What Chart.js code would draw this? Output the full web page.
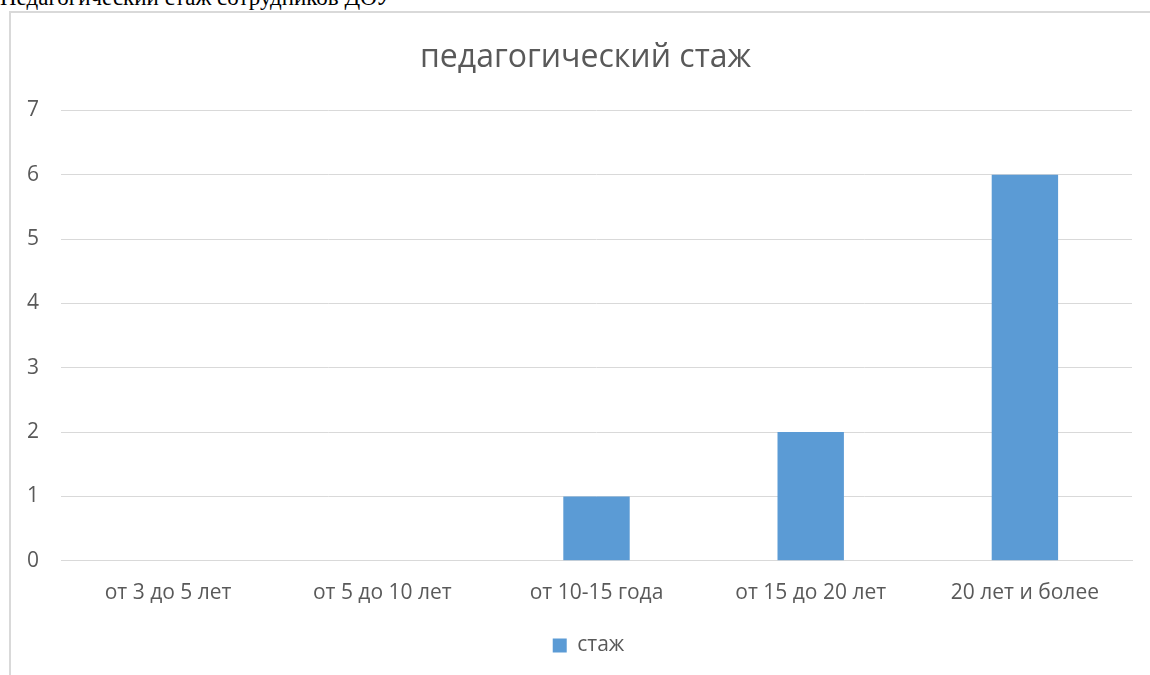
<!DOCTYPE html>
<html>
<head>
<meta charset="utf-8">
<script src="https://cdn.jsdelivr.net/npm/chart.js@4.4.1/dist/chart.umd.min.js"></script>
<style>
  html, body { margin: 0; padding: 0; background: #fff; overflow: hidden; }
  #page { position: relative; width: 1150px; height: 675px; }
  #doc-heading {
    position: absolute; left: 0; top: -14px;
    font-family: "Liberation Serif", serif; font-size: 23px; line-height: 24px;
    color: #000; white-space: nowrap;
  }
  #chart-frame {
    position: absolute; left: 9px; top: 11px; width: 1160px; height: 700px;
    border: 2px solid #d9d9d9; box-sizing: border-box;
  }
  #chart-holder { position: absolute; left: 0; top: 0; width: 1150px; height: 675px; }
</style>
</head>
<body>
<div id="page">
  <div id="doc-heading">Педагогический стаж сотрудников ДОУ</div>
  <div id="chart-frame"></div>
  <div id="chart-holder"><canvas id="stazh-chart"></canvas></div>
</div>
<script>
const categories = ["от 3 до 5 лет", "от 5 до 10 лет", "от 10-15 года", "от 15 до 20 лет", "20 лет и более"];
const stazhValues = [0, 0, 1, 2, 6];
const seriesName = "стаж";
const chartTitle = "педагогический стаж";

const textColor = '#595959';
const gridColor = '#d9d9d9';
const barColor = '#5b9bd5';

Chart.defaults.font.family = '"Open Sans", "Noto Sans", sans-serif';

// title and legend sit a bit right of the canvas centre in the original
const centreShift = {
    id: 'centreShift',
    afterLayout(chart) {
        if (chart.titleBlock) {
            chart.titleBlock.left += 34;
        }
        if (chart.legend) {
            chart.legend.left += 20;
            chart.legend.right += 20;
        }
    }
};

const context = document.getElementById("stazh-chart").getContext('2d');

const stazhChart = new Chart(context, {
    type: 'bar',
    data: {
        labels: categories,
        datasets: [
            {
                "label": seriesName,
                "data": stazhValues,
                "backgroundColor": barColor,
                "borderWidth": 0,
                "barPercentage": 0.31,
                "categoryPercentage": 1,
            }
        ]
    },
    options: {
        responsive: true,
        maintainAspectRatio: false,
        animation: false,
        layout: {
            padding: { left: 5, right: 18, top: 39, bottom: 9 }
        },
        plugins: {
            title: {
                display: true,
                text: chartTitle,
                color: textColor,
                font: { size: 32, weight: 'normal' },
                padding: { top: 0, bottom: 33 }
            },
            legend: {
                position: 'bottom',
                labels: {
                    color: textColor,
                    font: { size: 21 },
                    boxWidth: 14,
                    boxHeight: 14,
                    padding: 17
                }
            },
            tooltip: { enabled: false }
        },
        scales: {
            x: {
                grid: { display: false },
                border: { color: gridColor, width: 1 },
                ticks: { color: textColor, font: { size: 21 }, padding: 12 }
            },
            y: {
                min: 0,
                max: 7,
                ticks: { stepSize: 1, color: textColor, font: { size: 21 }, padding: 22 },
                grid: { color: gridColor, lineWidth: 1, drawTicks: false },
                border: { display: false }
            }
        }
    },
    plugins: [centreShift]
});
</script>
</body>
</html>
